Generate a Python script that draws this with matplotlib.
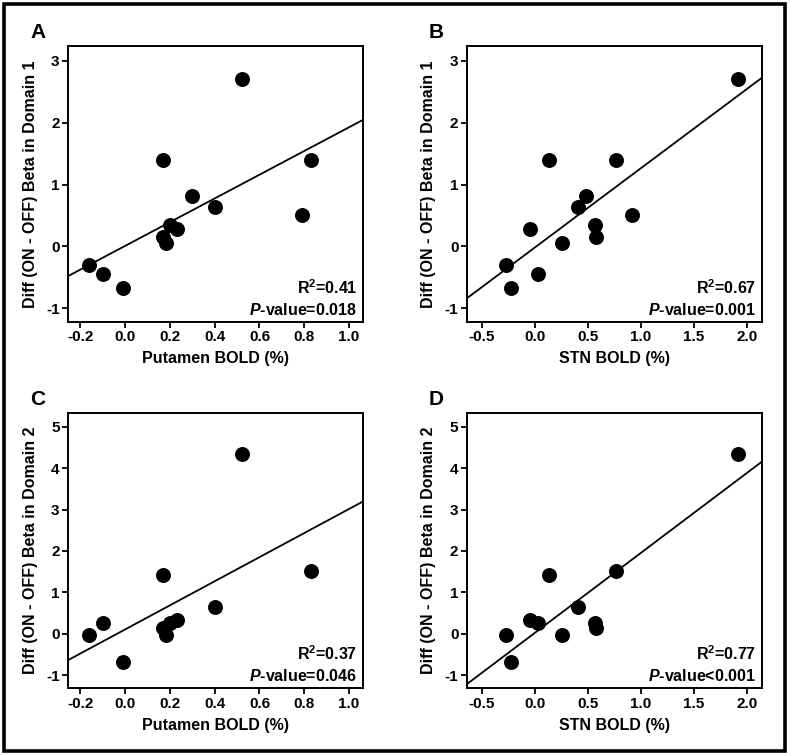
import numpy as np
import matplotlib
matplotlib.use('Agg')
import matplotlib.pyplot as plt
from matplotlib.patches import Rectangle

plt.rcParams['font.family'] = ['Liberation Sans', 'DejaVu Sans']
plt.rcParams['font.weight'] = 'bold'
plt.rcParams['axes.unicode_minus'] = False
plt.rcParams['mathtext.fontset'] = 'custom'
plt.rcParams['mathtext.rm'] = 'Liberation Sans:bold'
plt.rcParams['mathtext.it'] = 'Liberation Sans:bold:italic'

# domain 1 (13 subjects)
putamen_d1 = [-0.16, -0.10, -0.01, 0.17, 0.17, 0.185, 0.20, 0.23, 0.30, 0.40, 0.52, 0.79, 0.83]
stn_d1 = [-0.27, 0.03, -0.22, 0.14, 0.58, 0.26, 0.57, -0.04, 0.48, 0.41, 1.92, 0.92, 0.77]
beta_d1 = [-0.30, -0.44, -0.67, 1.39, 0.15, 0.05, 0.34, 0.28, 0.82, 0.63, 2.71, 0.51, 1.39]

# domain 2 (11 subjects)
putamen_d2 = [-0.16, -0.10, -0.01, 0.17, 0.17, 0.185, 0.20, 0.23, 0.40, 0.52, 0.83]
stn_d2 = [-0.27, 0.03, -0.22, 0.14, 0.58, 0.26, 0.57, -0.04, 0.41, 1.92, 0.77]
beta_d2 = [-0.02, 0.27, -0.68, 1.42, 0.15, -0.02, 0.25, 0.33, 0.64, 4.35, 1.52]

panels = [
    ('A', putamen_d1, beta_d1, 'Putamen BOLD (%)', 'Diff (ON - OFF) Beta in Domain 1', '0.41', '=0.018'),
    ('B', stn_d1, beta_d1, 'STN BOLD (%)', 'Diff (ON - OFF) Beta in Domain 1', '0.67', '=0.001'),
    ('C', putamen_d2, beta_d2, 'Putamen BOLD (%)', 'Diff (ON - OFF) Beta in Domain 2', '0.37', '=0.046'),
    ('D', stn_d2, beta_d2, 'STN BOLD (%)', 'Diff (ON - OFF) Beta in Domain 2', '0.77', '<0.001'),
]

put_ticks = [-0.2, 0.0, 0.2, 0.4, 0.6, 0.8, 1.0]
stn_ticks = [-0.5, 0.0, 0.5, 1.0, 1.5, 2.0]

fig = plt.figure(figsize=(7.9, 7.55), dpi=100)
fig.patches.append(Rectangle((3.5 / 790, 4 / 755), 781 / 790, 747.5 / 755,
                             transform=fig.transFigure, fill=False, lw=2.6, ec='black'))

boxes = [(0.0861, 0.5735), (0.5908, 0.5735), (0.0861, 0.0883), (0.5908, 0.0883)]
for (letter, x, y, xlab, ylab, r2, pv), (left, bottom) in zip(panels, boxes):
    ax = fig.add_axes([left, bottom, 0.3734, 0.3650])
    x = np.array(x)
    y = np.array(y)
    if letter in 'AC':
        xlim = (-0.254, 1.062)
        xt = put_ticks
    else:
        xlim = (-0.64, 2.14)
        xt = stn_ticks
    if letter in 'AB':
        ax.set_ylim(-1.22, 3.23)
        yt = [-1, 0, 1, 2, 3]
    else:
        ax.set_ylim(-1.32, 5.34)
        yt = [-1, 0, 1, 2, 3, 4, 5]
    ax.set_xlim(*xlim)
    ax.set_xticks(xt)
    ax.set_xticklabels(['%.1f' % t for t in xt], fontweight='bold', fontsize=11)
    ax.set_yticks(yt)
    ax.set_yticklabels(['%d' % t for t in yt], fontweight='bold', fontsize=11)

    slope, icpt = np.polyfit(x, y, 1)
    xx = np.array(xlim)
    ax.plot(xx, slope * xx + icpt, color='black', lw=1.3, zorder=2)
    ax.scatter(x, y, s=95, color='black', zorder=3, clip_on=False)

    for sp in ax.spines.values():
        sp.set_linewidth(1.4)
    ax.tick_params(direction='out', length=4, width=1.3, pad=2)
    ax.set_xlabel(xlab, fontsize=11.5, fontweight='bold', labelpad=5)
    ax.set_ylabel(ylab, fontsize=11.5, fontweight='bold', labelpad=6)

    ax.text(0.98, 0.125, r'R$^2$=' + r2, transform=ax.transAxes, ha='right', va='center',
            fontsize=11.5, fontweight='bold')
    ax.text(0.98, 0.045, r'$P$-value' + pv, transform=ax.transAxes, ha='right', va='center',
            fontsize=11.5, fontweight='bold')

    ax.text(left - 0.0385, bottom + 0.365 + 0.018, letter, transform=fig.transFigure,
            ha='center', va='center', fontsize=15, fontweight='bold')

fig.savefig('out.png', dpi=100)
